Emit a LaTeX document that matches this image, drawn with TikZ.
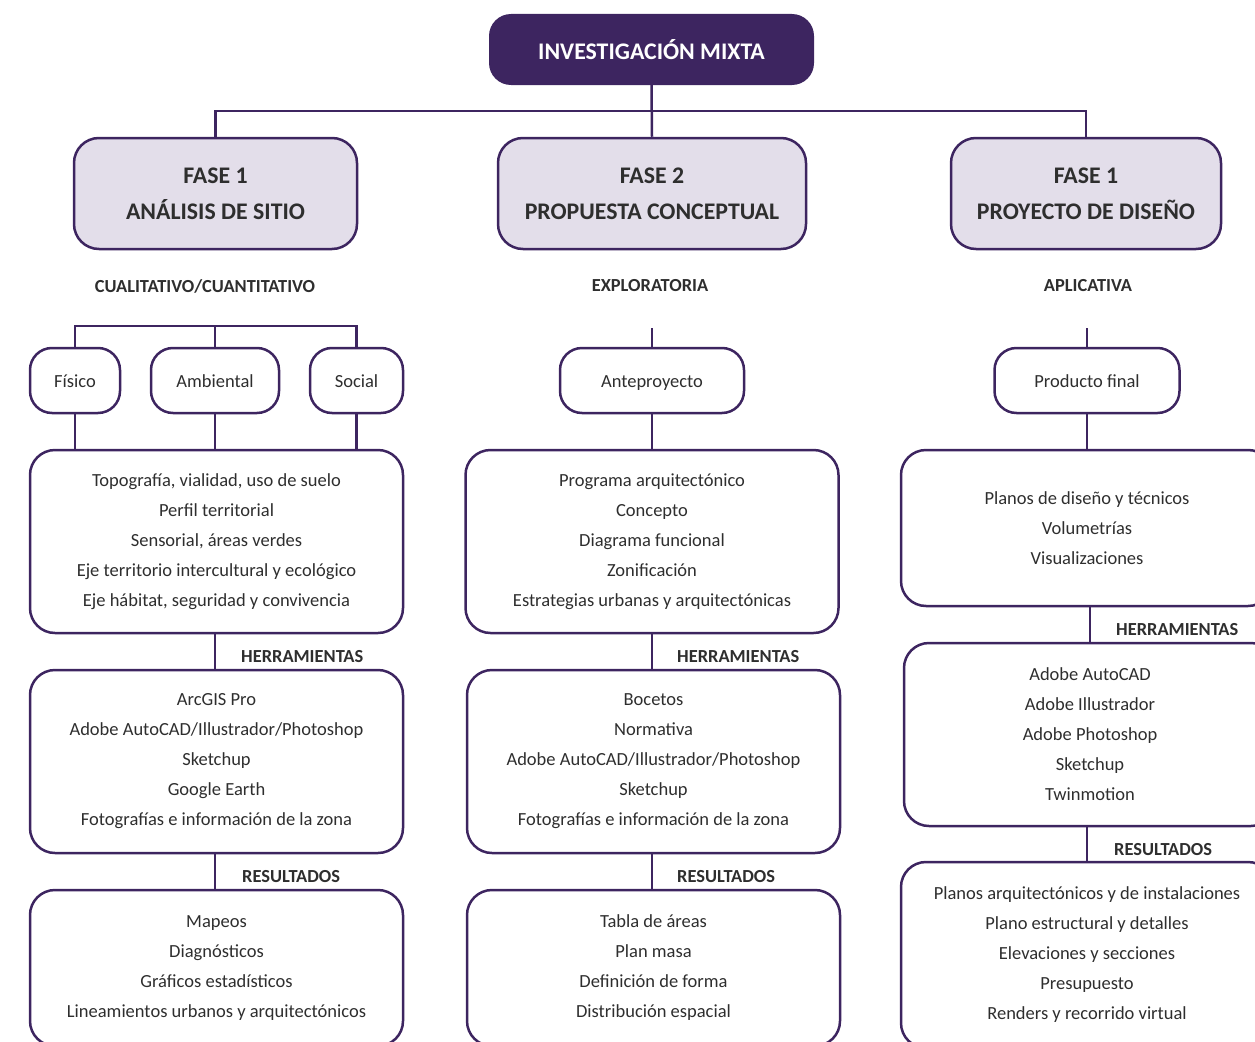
\documentclass[tikz,border=0pt]{standalone}
\usepackage{fontspec}
\setmainfont{Carlito}
\definecolor{morado}{HTML}{3D2560}
\definecolor{lila}{HTML}{E3DEEA}
\definecolor{texto}{HTML}{2E2E2E}

\begin{document}
\begin{tikzpicture}[x=1pt,y=-1pt,
  linea/.style={draw=morado,line width=2.5pt},
  titulo/.style={fill=morado,rounded corners=22pt,text=white,minimum width=325pt,minimum height=71pt,font=\fontsize{23.8}{28}\selectfont\bfseries},
  fase/.style={linea,fill=lila,rounded corners=25pt,text=texto,align=center,minimum height=111pt,font=\fontsize{23.8}{36}\selectfont\bfseries},
  eje/.style={linea,rounded corners=22pt,text=texto,minimum height=65pt,text height=15.5pt,text depth=1pt,font=\fontsize{18.5}{22}\selectfont},
  caja/.style={linea,rounded corners=25pt,text=texto,align=center,minimum width=373pt,font=\fontsize{18.5}{30}\selectfont},
  etiqueta/.style={text=texto,font=\fontsize{18.4}{22}\selectfont\bfseries},
  paso/.style={etiqueta,anchor=west,inner sep=0pt}]
\clip (0,0) rectangle (1255,1041);

\node[titulo] (mixta) at (651.5,49.5) {INVESTIGACIÓN MIXTA};

\node[fase,minimum width=283pt] (f1) at (215.5,193.5) {FASE 1\\ANÁLISIS DE SITIO};
\node[fase,minimum width=308pt] (f2) at (652,193.5) {FASE 2\\PROPUESTA CONCEPTUAL};
\node[fase,minimum width=270pt] (f3) at (1086,193.5) {FASE 1\\PROYECTO DE DISEÑO};

\coordinate (rama) at (652,111);
\draw[linea] (mixta.south) -- (f2.north);
\draw[linea] (f1.north) |- (rama) -| (f3.north);

\node[etiqueta] (cual) at (205,286) {CUALITATIVO/CUANTITATIVO};
\node[etiqueta] (expl) at (650,286) {EXPLORATORIA};
\node[etiqueta] (apli) at (1088,286) {APLICATIVA};

\node[eje,minimum width=90pt] (fis) at (75,380.5) {Físico};
\node[eje,minimum width=128pt] (amb) at (215,380.5) {Ambiental};
\node[eje,minimum width=93pt] (soc) at (356.5,380.5) {Social};
\node[eje,minimum width=184pt] (ante) at (652,380.5) {Anteproyecto};
\node[eje,minimum width=185pt] (prod) at (1087,380.5) {Producto final};

\coordinate (c1) at (215,326);
\coordinate (c2) at (652,328);
\coordinate (c3) at (1087,328);
\draw[linea] (fis.north) |- (c1) -| (soc.north);
\draw[linea] (amb.north) -- (c1);
\draw[linea] (ante.north) -- (c2);
\draw[linea] (prod.north) -- (c3);

\node[caja,minimum height=183pt] (a1) at (216.5,541.5) {Topografía, vialidad, uso de suelo\\Perfil territorial\\Sensorial, áreas verdes\\Eje territorio intercultural y ecológico\\Eje hábitat, seguridad y convivencia};
\node[caja,minimum height=183pt] (a2) at (216.5,761.5) {ArcGIS Pro\\Adobe AutoCAD/Illustrador/Photoshop\\Sketchup\\Google Earth\\Fotografías e información de la zona};
\node[caja,minimum height=156pt] (a3) at (216.5,968) {Mapeos\\Diagnósticos\\Gráficos estadísticos\\Lineamientos urbanos y arquitectónicos};

\node[caja,minimum height=183pt] (b1) at (652,541.5) {Programa arquitectónico\\Concepto\\Diagrama funcional\\Zonificación\\Estrategias urbanas y arquitectónicas};
\node[caja,minimum height=183pt] (b2) at (653.5,761.5) {Bocetos\\Normativa\\Adobe AutoCAD/Illustrador/Photoshop\\Sketchup\\Fotografías e información de la zona};
\node[caja,minimum height=156pt] (b3) at (653.5,968) {Tabla de áreas\\Plan masa\\Definición de forma\\Distribución espacial};

\node[caja,minimum width=372pt,minimum height=156pt] (d1) at (1087,528) {Planos de diseño y técnicos\\Volumetrías\\Visualizaciones};
\node[caja,minimum width=372pt,minimum height=183pt] (d2) at (1090,734.5) {Adobe AutoCAD\\Adobe Illustrador\\Adobe Photoshop\\Sketchup\\Twinmotion};
\node[caja,minimum width=372pt,minimum height=186pt] (d3) at (1087,955) {Planos arquitectónicos y de instalaciones\\Plano estructural y detalles\\Elevaciones y secciones\\Presupuesto\\Renders y recorrido virtual};

\draw[linea] (fis.south) -- (fis.south |- a1.north);
\draw[linea] (amb.south) -- (amb.south |- a1.north);
\draw[linea] (soc.south) -- (soc.south |- a1.north);
\draw[linea] (ante.south) -- (ante.south |- b1.north);
\draw[linea] (prod.south) -- (prod.south |- d1.north);

\draw[linea] (a1.south -| amb.south) -- (a2.north -| amb.south);
\draw[linea] (a2.south -| amb.south) -- (a3.north -| amb.south);
\draw[linea] (b1.south -| ante.south) -- (b2.north -| ante.south);
\draw[linea] (b2.south -| ante.south) -- (b3.north -| ante.south);
\draw[linea] (d1.south -| d2.north) -- (d2.north);
\draw[linea] (d2.south -| d1.north) -- (d3.north);

\node[paso] (h1) at (241,657) {HERRAMIENTAS};
\node[paso] (r1) at (242,877) {RESULTADOS};
\node[paso] (h2) at (677,657) {HERRAMIENTAS};
\node[paso] (r2) at (677,877) {RESULTADOS};
\node[paso] (h3) at (1116,630) {HERRAMIENTAS};
\node[paso] (r3) at (1114,850) {RESULTADOS};
\end{tikzpicture}
\end{document}
